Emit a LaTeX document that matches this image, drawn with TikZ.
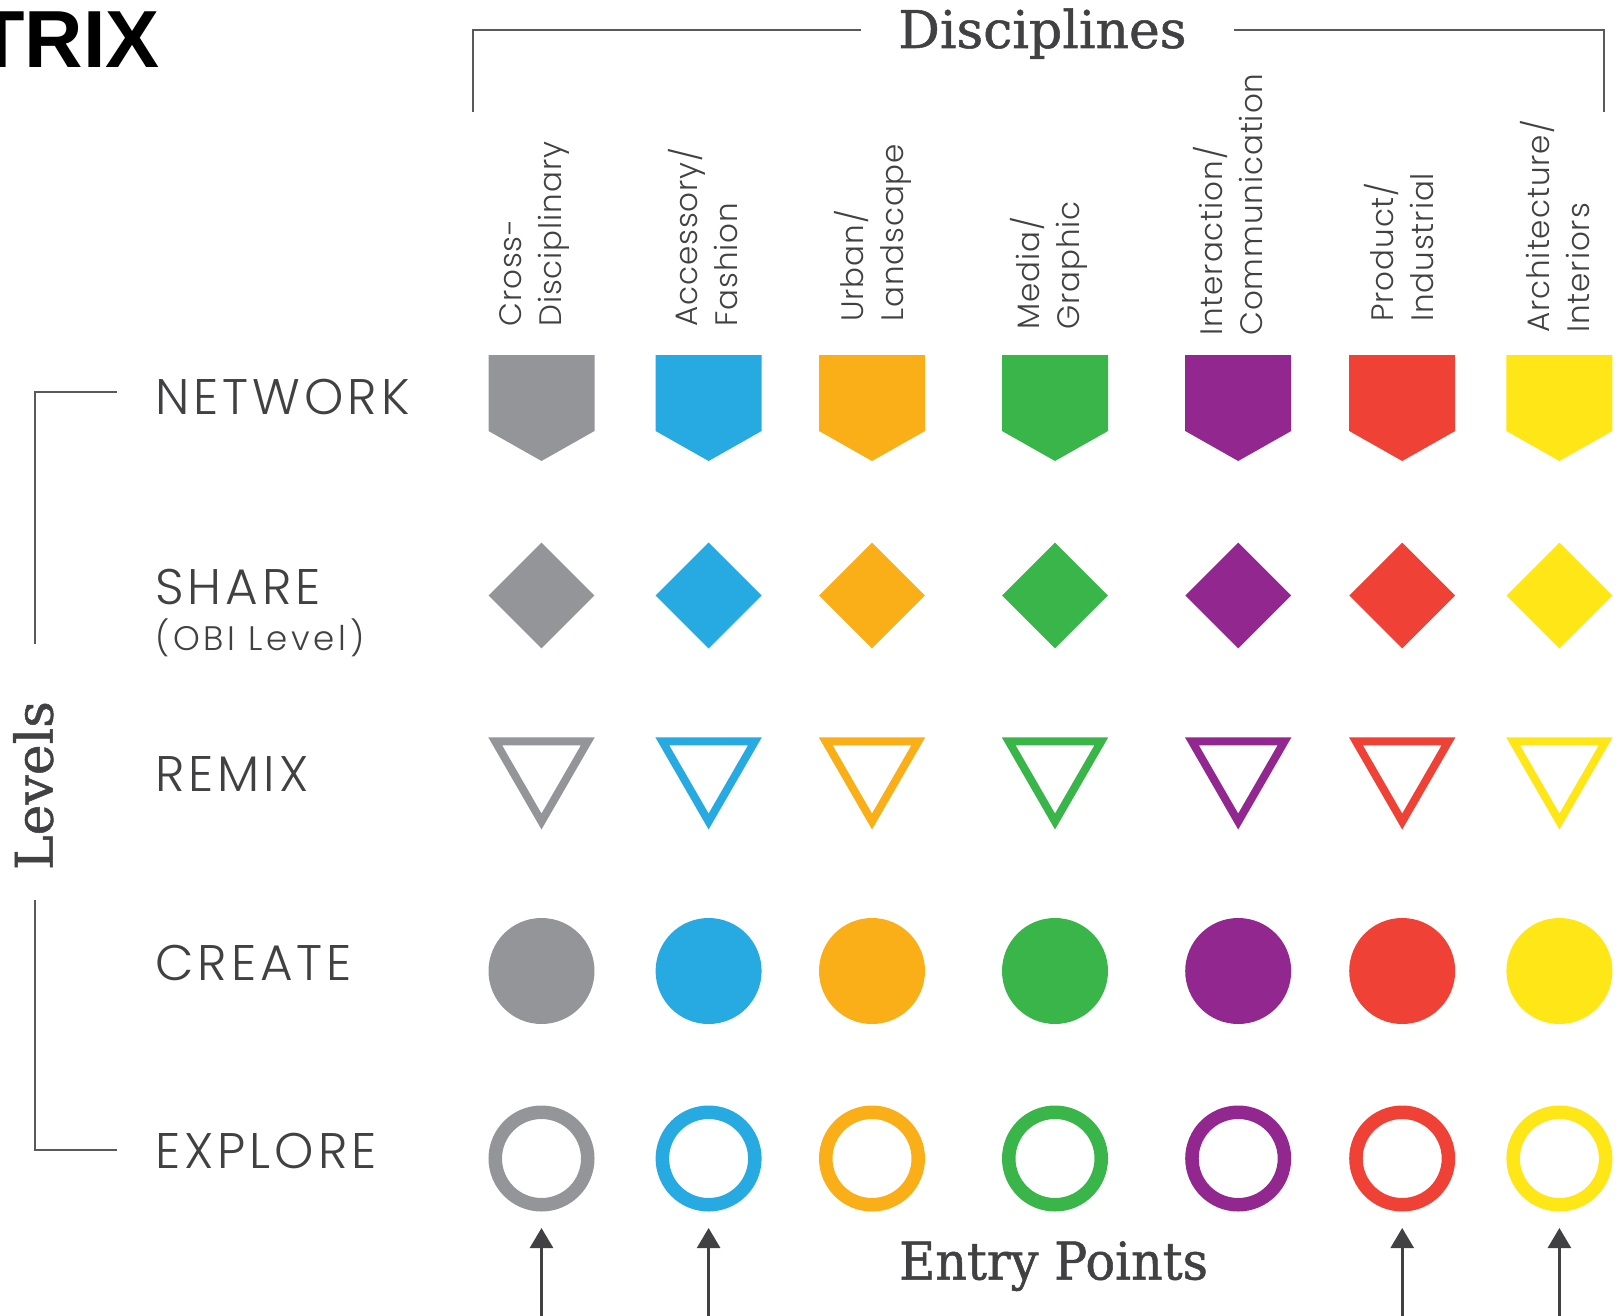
\documentclass[tikz,border=0pt]{standalone}
\usepackage{fontspec}
\newfontfamily\lightsans{Poppins Light}
\newfontfamily\widesans{Poppins Light}[LetterSpace=8]
\newfontfamily\slab{DejaVu Serif}[FakeBold=1]
\newfontfamily\slabnarrow{DejaVu Serif}[FakeBold=1, FakeStretch=0.95]
\newfontfamily\heavy{Liberation Sans Bold}
\usetikzlibrary{positioning, shapes.geometric, arrows.meta}

\definecolor{ink}{HTML}{414042}
\definecolor{rule}{HTML}{58595B}
\definecolor{cgray}{HTML}{939598}
\definecolor{cblue}{HTML}{27AAE1}
\definecolor{corange}{HTML}{FAAF19}
\definecolor{cgreen}{HTML}{39B54A}
\definecolor{cpurple}{HTML}{92278F}
\definecolor{cred}{HTML}{EF4136}
\definecolor{cyellow}{HTML}{FFE617}

\begin{document}
\begin{tikzpicture}[x=1pt, y=-1pt,
    level/.style={anchor=base west, inner sep=0, text=ink,
      font=\widesans\fontsize{50}{50}\selectfont},
    sublevel/.style={level,
      font=\widesans\addfontfeature{LetterSpace=11}\fontsize{34}{34}\selectfont},
    discipline/.style={rotate=90, anchor=west, align=left, inner sep=0,
      text=ink, font=\lightsans\addfontfeature{LetterSpace=3}\fontsize{31}{40}\selectfont},
    heading/.style={inner sep=0, text=ink,
      font=\slab\fontsize{52}{52}\selectfont},
    bracket/.style={draw=rule, line width=2pt},
    sharebox/.style={diamond, minimum size=106pt, inner sep=0},
    remixbox/.style={regular polygon, regular polygon sides=3,
      shape border rotate=180, minimum size=107pt, inner sep=0,
      line width=8pt, fill=white},
    createbox/.style={circle, minimum size=106pt, inner sep=0},
    explorebox/.style={circle, minimum size=92.5pt, inner sep=0,
      line width=13.5pt},
    entry/.style={draw=ink, line width=2.7pt,
      -{Triangle[width=23pt, length=20pt]}}]

  \useasboundingbox (0,0) rectangle (1622,1316);

  \node(trix)[anchor=north east, inner sep=0,
    font=\heavy\fontsize{81}{81}\selectfont] at (160,12) {TRIX};

  % disciplines
  \node(disciplines)[heading, anchor=base west] at (898,48) {Disciplines};
  \draw[bracket] (473,112) |- (861,30);
  \draw[bracket] (1234,30) -| (1604,112);

  % levels
  \node(levels)[heading, rotate=90, anchor=base] at (52.7,785.5) {Levels};
  \draw[bracket] (117,392) -| (35,644);
  \draw[bracket] (35,900) |- (117,1150);

  \node(network)[level] at (155,414) {NETWORK};
  \node(share)[level] at (155,604) {SHARE};
  \node(obi)[sublevel] at (155,650) {(OBI Level)};
  \node(remix)[level] at (155,791) {REMIX};
  \node(create)[level] at (155,980) {CREATE};
  \node(explore)[level] at (155,1168) {EXPLORE};

  % one column per discipline
  \foreach \i/\x/\c/\lx/\ly/\txt in {
      1/541.5/cgray/535/327/{Cross-\\Disciplinary},
      2/708.6/cblue/703/327/{Accessory/\\Fashion},
      3/872/corange/873/322/{Urban/\\Landscape},
      4/1055/cgreen/1049/330/{Media/\\Graphic},
      5/1238.2/cpurple/1228/336/{Interaction/\\Communication},
      6/1402.2/cred/1399/322/{Product/\\Industrial},
      7/1559.4/cyellow/1555/333/{Architecture/\\Interiors}}
  {
    \node(lbl-\i)[discipline] at (\lx,\ly) {\txt};
    \coordinate(net-\i) at (\x,407);
    \fill[\c] ({\x-53},355) -- ({\x+53},355) -- ({\x+53},431)
      -- (\x,461) -- ({\x-53},431) -- cycle;
    \node(shr-\i)[sharebox, fill=\c] at (\x,595.5) {};
    \node(rmx-\i)[remixbox, draw=\c] at (\x,768) {};
    \node(crt-\i)[createbox, fill=\c] at (\x,971) {};
    \node(exp-\i)[explorebox, draw=\c] at (\x,1158.5) {};
  }

  % entry points
  \node(entrypoints)[heading, font=\slabnarrow\fontsize{52}{52}\selectfont,
    anchor=base west] at (899,1279.5) {Entry Points};
  \foreach \i in {1,2,6,7}
    \draw[entry, shorten >=16.5pt] (exp-\i.south |- 0,1316) -- (exp-\i.south);
\end{tikzpicture}
\end{document}
